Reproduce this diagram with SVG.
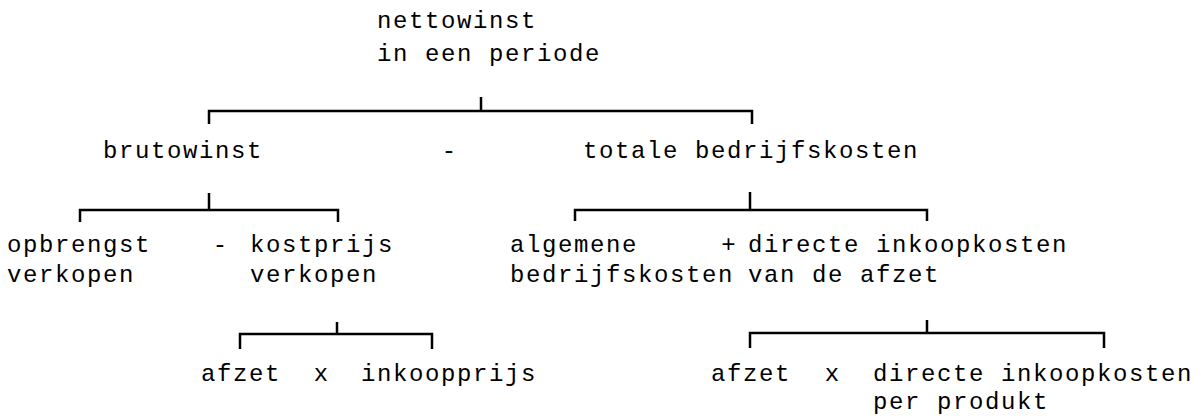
<svg xmlns="http://www.w3.org/2000/svg" width="1201" height="416" viewBox="0 0 1201 416">
<style>
text { font-family: "Liberation Mono", "Courier New", monospace; font-size: 24px; letter-spacing: 1.6px; fill: #000; }
.br { fill: none; stroke: #000; stroke-width: 2.5; stroke-linecap: butt; stroke-linejoin: miter; }
</style>
<rect width="1201" height="416" fill="#fff"/>
<g id="connectors">
  <path class="br" d="M209,124 V111 H752 V124 M481,97 V111"/>
  <path class="br" d="M80,222 V210 H338 V222 M209,193 V210"/>
  <path class="br" d="M575,221 V210 H927 V221 M750,192 V210"/>
  <path class="br" d="M240,349 V334 H432 V349 M337,322 V334"/>
  <path class="br" d="M750,348 V333 H1104 V348 M927,320 V333"/>
</g>
<g id="nettowinst"><text x="377" y="28">nettowinst</text><text x="377" y="61">in een periode</text></g>
<g id="brutowinst"><text x="103" y="158">brutowinst</text></g>
<g id="op-minus-1"><text x="441.8" y="158">-</text></g>
<g id="totale-bedrijfskosten"><text x="583" y="158">totale bedrijfskosten</text></g>
<g id="opbrengst-verkopen"><text x="7" y="252">opbrengst</text><text x="7" y="282">verkopen</text></g>
<g id="op-minus-2"><text x="212.8" y="252">-</text></g>
<g id="kostprijs-verkopen"><text x="250" y="252">kostprijs</text><text x="250" y="282">verkopen</text></g>
<g id="algemene-bedrijfskosten"><text x="510" y="252">algemene</text><text x="510" y="282">bedrijfskosten</text></g>
<g id="op-plus"><text x="721.3" y="252">+</text></g>
<g id="directe-inkoopkosten-afzet"><text x="748" y="252">directe inkoopkosten</text><text x="748" y="282">van de afzet</text></g>
<g id="afzet-1"><text x="201" y="381">afzet</text></g>
<g id="op-x-1"><text x="313.8" y="381">x</text></g>
<g id="inkoopprijs"><text x="361" y="381">inkoopprijs</text></g>
<g id="afzet-2"><text x="711" y="381">afzet</text></g>
<g id="op-x-2"><text x="824.8" y="381">x</text></g>
<g id="directe-inkoopkosten-per-produkt"><text x="873" y="381">directe inkoopkosten</text><text x="873" y="409">per produkt</text></g>
</svg>
